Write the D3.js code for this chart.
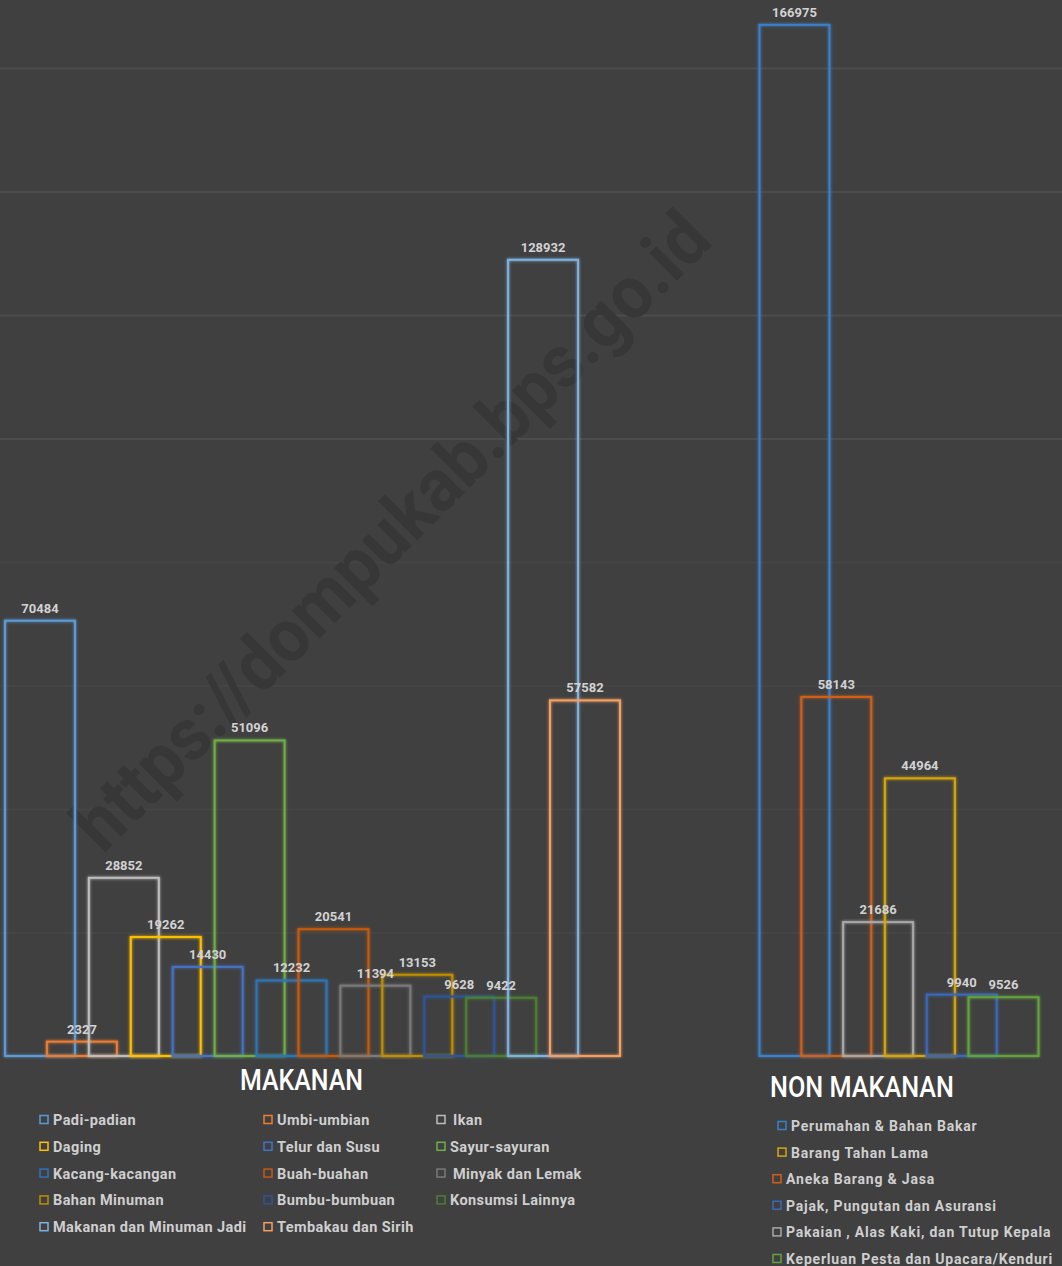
<!DOCTYPE html>
<html>
<head>
<meta charset="utf-8">
<script src="https://cdn.jsdelivr.net/npm/d3@7"></script>
<style>
  html, body { margin: 0; padding: 0; background: #404040; }
  svg { display: block; }
  .val { font-family: Roboto, sans-serif; font-weight: 700; font-size: 13px; fill: #d2d2d2; }
  .leg { font-family: Roboto, sans-serif; font-weight: 700; font-size: 14.5px; fill: #cfcfcf; letter-spacing: 0.4px; }
  .legN { font-size: 14px; letter-spacing: 0.8px; }
  .title { font-family: Roboto, sans-serif; font-weight: 500; font-size: 30px; fill: #ffffff; }
</style>
</head>
<body>
<div class="chart"></div>
<script>
// Makanan (food) categories, in bar order
var makananCats = ["Padi-padian", "Umbi-umbian", "Ikan", "Daging", "Telur dan Susu", "Sayur-sayuran",
    "Kacang-kacangan", "Buah-buahan", "Minyak dan Lemak", "Bahan Minuman", "Bumbu-bumbuan",
    "Konsumsi Lainnya", "Makanan dan Minuman Jadi", "Tembakau dan Sirih"];
var makananVals = [70484, 2327, 28852, 19262, 14430, 51096, 12232, 20541, 11394, 13153, 9628, 9422, 128932, 57582];

// Non makanan categories, in bar order
var nonCats = ["Perumahan & Bahan Bakar", "Aneka Barang & Jasa", "Pakaian , Alas Kaki, dan Tutup Kepala",
    "Barang Tahan Lama", "Pajak, Pungutan dan Asuransi", "Keperluan Pesta dan Upacara/Kenduri"];
var nonVals = [166975, 58143, 21686, 44964, 9940, 9526];

// legend order for non makanan
var nonLegend = ["Perumahan & Bahan Bakar", "Barang Tahan Lama", "Aneka Barang & Jasa",
    "Pajak, Pungutan dan Asuransi", "Pakaian , Alas Kaki, dan Tutup Kepala", "Keperluan Pesta dan Upacara/Kenduri"];

var gridTicks = [20000, 40000, 60000, 80000, 100000, 120000, 140000, 160000];

var makananColors = ["#5b9bd5", "#ed7d31", "#bdbdbd", "#ffc000", "#4472c4", "#70ad47",
    "#2e75b6", "#c55a11", "#7a7a7a", "#bf8f00", "#2f5597", "#4b7f30", "#80b2e0", "#f4a064"];
var nonColors = {
    "Perumahan & Bahan Bakar": "#3a80c8",
    "Aneka Barang & Jasa": "#d0601a",
    "Pakaian , Alas Kaki, dan Tutup Kepala": "#a8a8a8",
    "Barang Tahan Lama": "#d6a511",
    "Pajak, Pungutan dan Asuransi": "#3d67b8",
    "Keperluan Pesta dan Upacara/Kenduri": "#62a33c"
};

var W = 1062, H = 1266, baseY = 1056, barW = 70;

var svg = d3.select(".chart").append("svg")
    .attr("width", W).attr("height", H);

svg.append("rect").attr("width", W).attr("height", H).attr("fill", "#404040");

var defs = svg.append("defs");
var glow = defs.append("filter").attr("id", "glow")
    .attr("x", "-20%").attr("y", "-20%").attr("width", "140%").attr("height", "140%");
glow.append("feGaussianBlur").attr("stdDeviation", 1.6).attr("result", "b");
var merge = glow.append("feMerge");
merge.append("feMergeNode").attr("in", "b");
merge.append("feMergeNode").attr("in", "SourceGraphic");

// y scale shared by both groups
var y = d3.scaleLinear().domain([0, 171000]).range([baseY, 0]);

// gridlines (the lower ones are fainter in the original)
svg.append("g")
    .attr("class", "grid")
    .attr("transform", "translate(" + W + ",0)")
    .call(d3.axisLeft(y).tickValues(gridTicks).tickSize(W).tickFormat(""))
    .call(function(g) {
        g.select(".domain").remove();
        g.selectAll(".tick line")
            .attr("stroke", function(d) { return d >= 100000 ? "#4c4c4c" : "#464646"; })
            .attr("stroke-width", function(d) { return d >= 100000 ? 2 : 1.5; });
    });

// watermark
svg.append("text")
    .attr("transform", "translate(395,535) rotate(-45)")
    .attr("text-anchor", "middle")
    .attr("dominant-baseline", "middle")
    .attr("textLength", 865)
    .attr("lengthAdjust", "spacingAndGlyphs")
    .style("font-family", "Roboto, sans-serif")
    .style("font-weight", 700)
    .style("font-size", "74px")
    .style("fill", "#373737")
    .text("https://dompukab.bps.go.id");

// x scales (bars overlap, so centres on point scales)
var xM = d3.scalePoint().domain(makananCats).range([40, 585]);
var xN = d3.scalePoint().domain(nonCats).range([794.5, 1003.5]);

function drawGroup(cats, vals, x, colorOf) {
    var g = svg.append("g");
    var data = cats.map(function(c, i) { return {cat: c, val: vals[i], i: i}; });

    g.selectAll("rect.bar").data(data).enter().append("rect")
        .attr("class", "bar")
        .attr("x", function(d) { return x(d.cat) - barW / 2; })
        .attr("y", function(d) { return y(d.val); })
        .attr("width", barW)
        .attr("height", function(d) { return baseY - y(d.val); })
        .attr("fill", "none")
        .attr("stroke", function(d) { return colorOf(d); })
        .attr("stroke-width", 2)
        .attr("filter", "url(#glow)");

    g.selectAll("text.val").data(data).enter().append("text")
        .attr("class", "val")
        .attr("x", function(d) { return x(d.cat); })
        .attr("y", function(d) { return y(d.val) - 8; })
        .attr("text-anchor", "middle")
        .text(function(d) { return d.val; });
}

drawGroup(makananCats, makananVals, xM, function(d) { return makananColors[d.i]; });
drawGroup(nonCats, nonVals, xN, function(d) { return nonColors[d.cat]; });

// titles
svg.append("text").attr("class", "title")
    .attr("x", 240).attr("y", 1090)
    .attr("textLength", 123).attr("lengthAdjust", "spacingAndGlyphs")
    .text("MAKANAN");
svg.append("text").attr("class", "title")
    .attr("x", 770).attr("y", 1097)
    .attr("textLength", 184).attr("lengthAdjust", "spacingAndGlyphs")
    .text("NON MAKANAN");

// makanan legend, 3 columns
var colX = [40, 264, 437];
var rowY0 = 1120, rowH = 26.8;
var legM = svg.append("g").selectAll("g").data(makananCats).enter().append("g")
    .attr("transform", function(d, i) {
        return "translate(" + colX[i % 3] + "," + (rowY0 + Math.floor(i / 3) * rowH) + ")";
    });
legM.append("rect")
    .attr("x", 0).attr("y", -4.5).attr("width", 8).attr("height", 8)
    .attr("fill", "none").attr("stroke-width", 1.5)
    .attr("stroke", function(d, i) { return makananColors[i]; });
legM.append("text").attr("class", "leg")
    .attr("x", function(d) { return (d === "Ikan" || d === "Minyak dan Lemak") ? 16 : 13; })
    .attr("y", 5)
    .text(function(d) { return d; });

// non makanan legend
var legN = svg.append("g").selectAll("g").data(nonLegend).enter().append("g")
    .attr("transform", function(d, i) {
        return "translate(" + (i < 2 ? 778 : 773) + "," + (1126 + i * 26.6) + ")";
    });
legN.append("rect")
    .attr("x", 0).attr("y", -4.5).attr("width", 8).attr("height", 8)
    .attr("fill", "none").attr("stroke-width", 1.5)
    .attr("stroke", function(d) { return nonColors[d]; });
legN.append("text").attr("class", "leg legN")
    .attr("x", 13).attr("y", 5)
    .text(function(d) { return d; });
</script>
</body>
</html>
